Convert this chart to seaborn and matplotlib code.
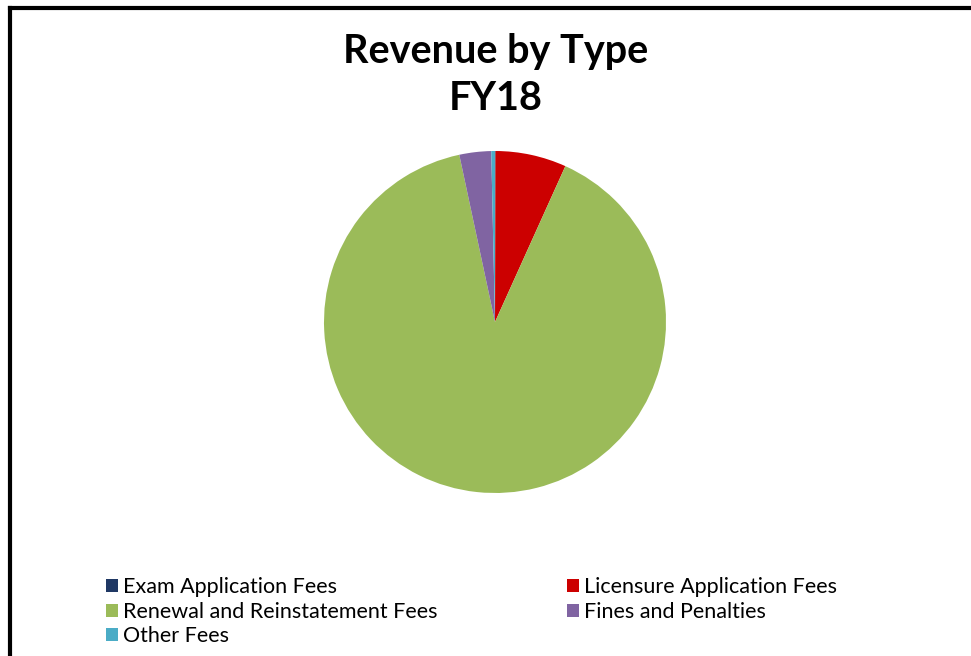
import matplotlib
matplotlib.use("Agg")
import matplotlib.pyplot as plt
from matplotlib.lines import Line2D
from matplotlib.patches import Patch
import seaborn as sns

# 数据（按顺时针方向，从12点钟开始）
categories = ["Exam Application Fees", "Licensure Application Fees",
              "Renewal and Reinstatement Fees", "Fines and Penalties", "Other Fees"]
shares = [0.05, 6.7, 89.9, 3.0, 0.35]
colors = ["#1F3864", "#CC0000", "#9BBB59", "#8064A2", "#4BACC6"]

sns.set_theme(style="white")
plt.rcParams['font.family'] = ['Lato', 'DejaVu Sans']
plt.rcParams['text.color'] = 'black'

fig = plt.figure(figsize=(9.71, 6.56), dpi=100)
W, H = 971, 656

# 饼图
cx, cy, r = 495, 322, 171
ax = fig.add_axes([(cx - r) / W, (H - cy - r) / H, 2 * r / W, 2 * r / H])
ax.pie(shares, colors=colors, startangle=90, counterclock=False,
       wedgeprops=dict(linewidth=0))
ax.set_xlim(-1, 1)
ax.set_ylim(-1, 1)
ax.set_aspect("equal")

# 标题
fig.text(496 / W, 1 - 75 / H, "Revenue by Type\nFY18", ha="center", va="center",
         fontsize=28.5, fontweight="bold", linespacing=1.3)

# 图例（两列）
order = [0, 2, 4, 1, 3]
handles = [Patch(facecolor=colors[i], edgecolor="none") for i in order]
labels = [categories[i] for i in order]
fig.legend(handles, labels, ncol=2, loc="upper left",
           bbox_to_anchor=(106 / W, 1 - 577 / H), frameon=False,
           fontsize=15.5, handlelength=0.55, handleheight=0.55,
           handletextpad=0.25, labelspacing=0.22, columnspacing=6.0,
           borderaxespad=0, borderpad=0)

# 外框线
fig.add_artist(Line2D([9.5 / W, 9.5 / W], [0, 1 - 7.5 / H], color="black", lw=3,
                      transform=fig.transFigure, solid_capstyle="projecting"))
fig.add_artist(Line2D([9.5 / W, 1], [1 - 7.5 / H, 1 - 7.5 / H], color="black", lw=3,
                      transform=fig.transFigure, solid_capstyle="projecting"))

fig.savefig("out.png", dpi=100)
